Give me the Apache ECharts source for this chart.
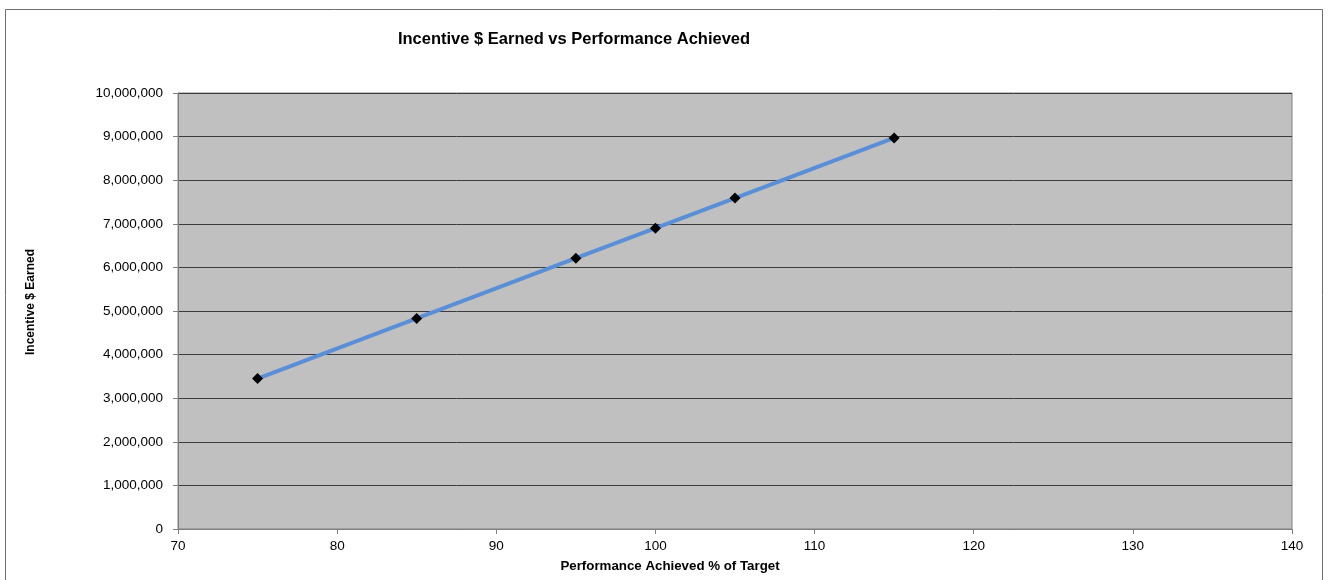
<!DOCTYPE html>
<html>
<head>
<meta charset="utf-8">
<title>Incentive $ Earned vs Performance Achieved</title>
<script src="https://cdn.jsdelivr.net/npm/echarts@6/dist/echarts.min.js"></script>
<style>
  html, body { margin: 0; padding: 0; background: #ffffff; }
  #chart { width: 1328px; height: 580px; }
</style>
</head>
<body>
<div id="chart"></div>
<script>
// Performance achieved (% of target) and the incentive earned at each level
const performancePct = [75, 85, 95, 100, 105, 115];
const incentiveEarned = [3450000, 4830000, 6210000, 6900000, 7590000, 8970000];

const chartTitle = 'Incentive $ Earned vs Performance Achieved';
const xAxisName = 'Performance Achieved % of Target';
const yAxisName = 'Incentive $ Earned';

const points = performancePct.map((p, i) => [p, incentiveEarned[i]]);

const chart = echarts.init(document.getElementById('chart'), null, { renderer: 'canvas' });

chart.setOption({
  animation: false,
  textStyle: { fontFamily: '"Liberation Sans", Arial, sans-serif' },
  title: {
    text: chartTitle,
    left: 574,
    textAlign: 'center',
    top: 31,
    padding: 0,
    textStyle: { fontSize: 16.5, fontWeight: 'bold', color: '#000000', fontFamily: '"Liberation Sans", Arial, sans-serif' }
  },
  graphic: [{
    type: 'rect',
    shape: { x: 5.5, y: 9.5, width: 1317, height: 620 },
    style: { fill: 'none', stroke: '#6e6e6e', lineWidth: 1 },
    silent: true,
    z: -1
  }],
  grid: {
    left: 178,
    top: 93,
    right: 36,
    bottom: 51,
    outerBoundsMode: 'none',
    show: true,
    backgroundColor: '#c0c0c0',
    borderColor: '#808080',
    borderWidth: 1
  },
  xAxis: {
    type: 'value',
    min: 70,
    max: 140,
    interval: 10,
    name: xAxisName,
    nameLocation: 'middle',
    nameGap: 31,
    nameTextStyle: {
      fontSize: 13.3,
      fontWeight: 'bold',
      color: '#000000',
      padding: [0, 130, 0, 0]
    },
    axisLine: { show: true, lineStyle: { color: '#808080', width: 1 } },
    axisTick: { show: true, length: 5, lineStyle: { color: '#808080' } },
    axisLabel: { fontSize: 13.5, color: '#000000', margin: 10 },
    splitLine: { show: false }
  },
  yAxis: {
    type: 'value',
    min: 0,
    max: 10000000,
    interval: 1000000,
    name: yAxisName,
    nameLocation: 'middle',
    nameGap: 141,
    nameTextStyle: {
      fontSize: 12,
      fontWeight: 'bold',
      color: '#000000',
      padding: [0, 0, 0, 18]
    },
    axisLine: { show: true, lineStyle: { color: '#808080', width: 1 } },
    axisTick: { show: true, length: 5, lineStyle: { color: '#808080' } },
    axisLabel: {
      fontSize: 13.5,
      color: '#000000',
      margin: 15,
      formatter: v => v.toLocaleString('en-US')
    },
    splitLine: { show: true, lineStyle: { color: '#3c3c3c', width: 1 } }
  },
  series: [{
    type: 'line',
    data: points,
    lineStyle: { color: '#5a8fd8', width: 4 },
    symbol: 'diamond',
    symbolSize: 11,
    itemStyle: { color: '#000000', borderColor: '#000000', borderWidth: 0 },
    z: 3
  }]
});
</script>
</body>
</html>
